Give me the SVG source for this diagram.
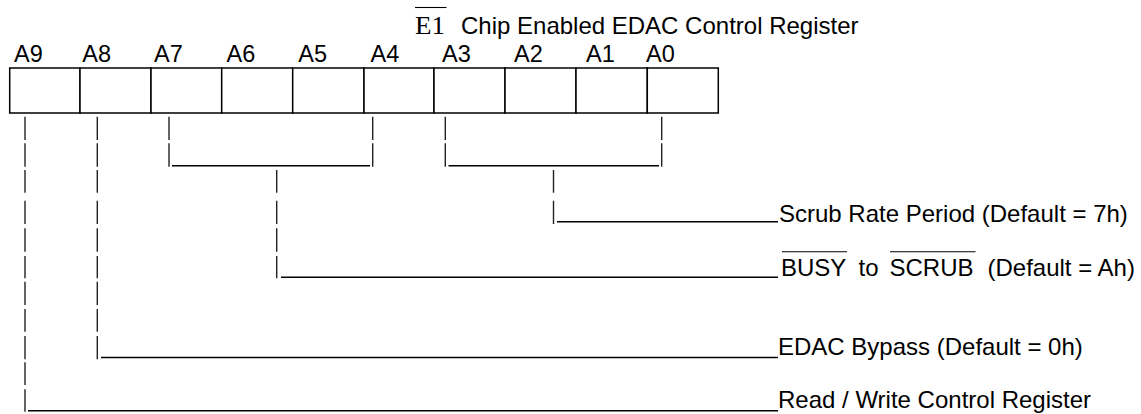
<svg xmlns="http://www.w3.org/2000/svg" width="1141" height="414" viewBox="0 0 1141 414">
<style>
  .lbl { font-family: "Liberation Sans", Arial, sans-serif; font-size: 23.5px; fill: #000; }
  .txt { font-family: "Liberation Sans", Arial, sans-serif; font-size: 24px; fill: #000; }
  .serif { font-family: "Liberation Serif", "Times New Roman", serif; font-size: 25px; fill: #000; }
  .cell { fill: #fff; stroke: #000; stroke-width: 1.5; }
  .pipe { fill: none; stroke: #222; stroke-width: 1.4; }
  .hline { fill: none; stroke: #000; stroke-width: 1.4; }
  .ovl { stroke: #000; stroke-width: 1.1; }
</style>
<rect width="1141" height="414" fill="#fff"/>

<g id="title">
  <text class="serif" x="415" y="33.5" textLength="30" lengthAdjust="spacingAndGlyphs">E1</text>
  <line class="ovl" x1="415" y1="7.5" x2="446.5" y2="7.5"/>
  <text class="txt" x="461" y="34">Chip Enabled EDAC Control Register</text>
</g>

<g id="register">
  <rect class="cell" x="9.7" y="68" width="70.3" height="45"/>
  <rect class="cell" x="80" y="68" width="71" height="45"/>
  <rect class="cell" x="151" y="68" width="70.7" height="45"/>
  <rect class="cell" x="221.7" y="68" width="71" height="45"/>
  <rect class="cell" x="292.7" y="68" width="71.3" height="45"/>
  <rect class="cell" x="364" y="68" width="70" height="45"/>
  <rect class="cell" x="434" y="68" width="71" height="45"/>
  <rect class="cell" x="505" y="68" width="71" height="45"/>
  <rect class="cell" x="576" y="68" width="71.3" height="45"/>
  <rect class="cell" x="647.3" y="68" width="71" height="45"/>
</g>

<g id="bit-labels">
  <text class="lbl" x="14" y="62">A9</text>
  <text class="lbl" x="82.3" y="62">A8</text>
  <text class="lbl" x="154" y="62">A7</text>
  <text class="lbl" x="226.5" y="62">A6</text>
  <text class="lbl" x="298.3" y="62">A5</text>
  <text class="lbl" x="370.5" y="62">A4</text>
  <text class="lbl" x="442" y="62">A3</text>
  <text class="lbl" x="514" y="62">A2</text>
  <text class="lbl" x="586" y="62">A1</text>
  <text class="lbl" x="646" y="62">A0</text>
</g>

<g id="connectors">
  <!-- A9 -->
  <path class="pipe" d="M25 116.7V140 M25 143.3V166.7 M25 170V192.7 M25 200.7V224 M25 228.3V251.7 M25 256V278.3 M25 281.7V305 M25 309V331.7 M25 336V359.3 M25 362.3V385 M25 389.3V411.7"/>
  <line class="hline" x1="28" y1="410.7" x2="778" y2="410.7"/>
  <!-- A8 -->
  <path class="pipe" d="M97.3 116.7V140 M97.3 143.3V166.7 M97.3 170V192.7 M97.3 200.7V224 M97.3 228.3V251.7 M97.3 256V278.3 M97.3 281.7V305 M97.3 309V331.7 M97.3 336V359.3"/>
  <line class="hline" x1="101" y1="357.5" x2="778" y2="357.5"/>
  <!-- A7..A4 -->
  <path class="pipe" d="M169 116.7V140 M169 143.3V166.7 M372.7 116.7V140 M372.7 143.3V166.7"/>
  <line class="hline" x1="172" y1="165.7" x2="370" y2="165.7"/>
  <path class="pipe" d="M276.7 170V192.7 M276.7 200.7V224 M276.7 228.3V251.7 M276.7 256V278.3"/>
  <line class="hline" x1="281" y1="277.3" x2="778" y2="277.3"/>
  <!-- A3..A0 -->
  <path class="pipe" d="M445.3 116.7V140 M445.3 143.3V166.7 M661.7 116.7V140 M661.7 143.3V166.7"/>
  <line class="hline" x1="448.5" y1="165.7" x2="659" y2="165.7"/>
  <path class="pipe" d="M553.5 170V192.7 M553.5 200.7V224"/>
  <line class="hline" x1="557" y1="221.7" x2="778" y2="221.7"/>
</g>

<g id="field-scrub-rate">
  <text class="txt" x="779" y="222">Scrub Rate Period (Default = 7h)</text>
</g>
<g id="field-busy-scrub">
  <text class="txt" x="781" y="275.5">BUSY</text>
  <line class="ovl" x1="782" y1="251.7" x2="847" y2="251.7"/>
  <text class="txt" x="858.5" y="275.5">to</text>
  <text class="txt" x="889.5" y="275.5">SCRUB</text>
  <line class="ovl" x1="890" y1="251.7" x2="975.5" y2="251.7"/>
  <text class="txt" x="987.5" y="275.5">(Default = Ah)</text>
</g>
<g id="field-edac-bypass">
  <text class="txt" x="778" y="355">EDAC Bypass (Default = 0h)</text>
</g>
<g id="field-rw">
  <text class="txt" x="778" y="407.5">Read / Write Control Register</text>
</g>
</svg>
